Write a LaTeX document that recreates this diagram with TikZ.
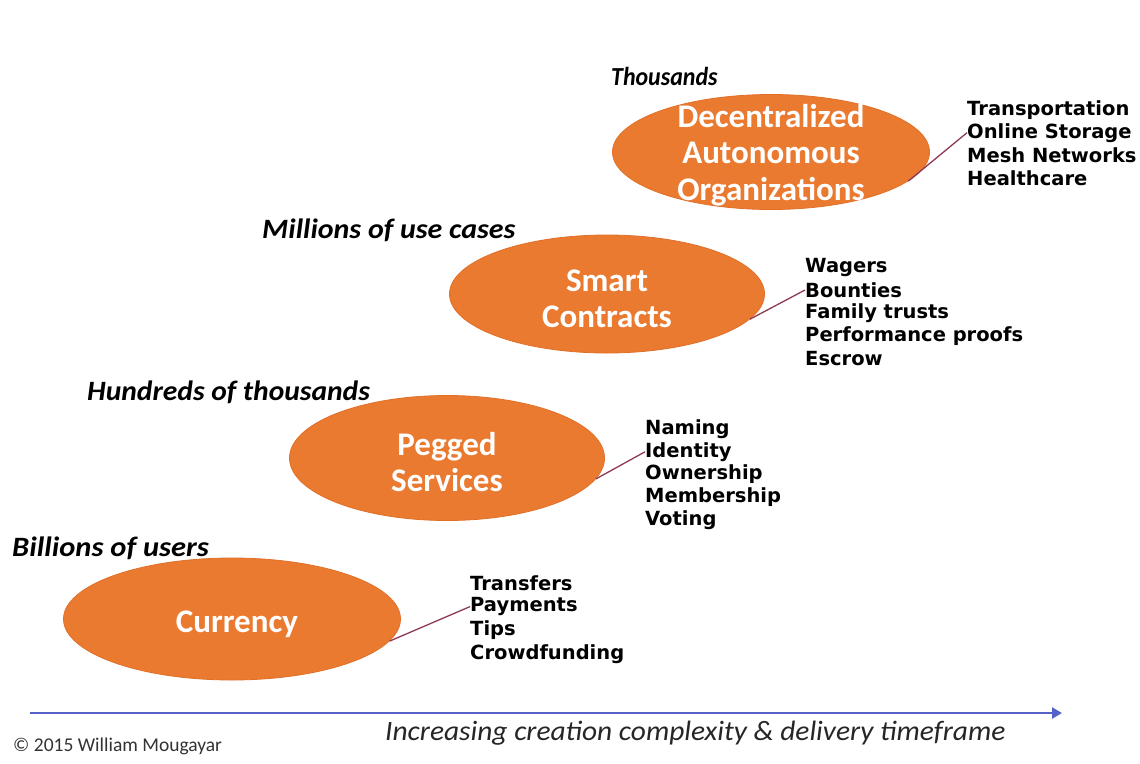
\documentclass[tikz,border=0pt]{standalone}
\usepackage{fontspec}
\setmainfont{Carlito}
\newfontfamily\listfont{DejaVu Sans}
\usetikzlibrary{shapes.geometric,arrows.meta}
\definecolor{orng}{HTML}{EB7A31}
\definecolor{orngdk}{HTML}{E06F28}
\definecolor{conncol}{HTML}{8E3A55}
\definecolor{axiscol}{HTML}{5563C8}
\tikzset{
  oval/.style={ellipse, fill=orng, draw=orngdk, line width=0.8pt, inner sep=0pt},
  ovaltext/.style={text=white, font=\fontsize{33}{36.5}\selectfont\bfseries, align=center, inner sep=0pt},
  item/.style={anchor=west, inner sep=0pt, font=\listfont\fontsize{19.5}{22}\selectfont\bfseries},
  scalelbl/.style={anchor=west, inner sep=0pt, font=\fontsize{28}{32}\selectfont\bfseries\itshape},
  conn/.style={draw=conncol, line width=1.3pt},
}
\begin{document}
\begin{tikzpicture}[x=1pt,y=-1pt]
\useasboundingbox (0,0) rectangle (1140,763);
\fill[white] (0,0) rectangle (1140,763);
% ovals
\node[oval, minimum width=317pt, minimum height=115pt] (dao) at (771,152) {};
\node[ovaltext] (daot) at (771,155) {Decentralized\\Autonomous\\Organizations};
\node[oval, minimum width=315pt, minimum height=118pt] (sc) at (607,294) {};
\node[ovaltext] (sct) at (607,299) {Smart\\Contracts};
\node[oval, minimum width=315pt, minimum height=125pt] (ps) at (447,458) {};
\node[ovaltext] (pst) at (447,462) {Pegged\\Services};
\node[oval, minimum width=337pt, minimum height=122pt] (cur) at (232,619) {};
\node[ovaltext] (curt) at (237,624) {Currency};
% scale labels
\node[scalelbl, font=\fontsize{26}{30}\selectfont\bfseries\itshape, xscale=0.92, transform shape] (l1) at (611,76) {Thousands};
\node[scalelbl, xscale=1.07, transform shape] (l2) at (262,230) {Millions of use cases};
\node[scalelbl, xscale=1.055, transform shape] (l3) at (87,392) {Hundreds of thousands};
\node[scalelbl, xscale=1.09, transform shape] (l4) at (12,548) {Billions of users};
% lists
\foreach \t [count=\i] in {Transportation,Online Storage,Mesh Networks,Healthcare}
  \node[item] (dao\i) at (967,{110+22.7*(\i-1)}) {\t};
\foreach \t [count=\i] in {Wagers,Bounties,Family trusts,Performance proofs,Escrow}
  \node[item] (sc\i) at (805,{267+23*(\i-1)}) {\t};
\foreach \t [count=\i] in {Naming,Identity,Ownership,Membership,Voting}
  \node[item] (ps\i) at (645,{429+22.8*(\i-1)}) {\t};
\foreach \t [count=\i] in {Transfers,Payments,Tips,Crowdfunding}
  \node[item] (cur\i) at (470,{583+23.6*(\i-1)}) {\t};
% connectors
\draw[conn] (dao.-12) -- (dao2.west);
\draw[conn] (sc.-10) -- (sc2.west);
\draw[conn] (ps.-8) -- (ps2.west);
\draw[conn] (cur.-8) -- (cur2.west);
% axis
\coordinate (a0) at (30,713);
\coordinate (a1) at (1062,713);
\draw[axiscol, line width=2.5pt, -{Triangle[length=10pt,width=11pt]}] (a0) -- (a1);
\node[anchor=west, inner sep=0pt, font=\fontsize{28}{32}\selectfont\itshape, text=black!85, xscale=1.05, transform shape] (ax) at (385,733) {Increasing creation complexity \& delivery timeframe};
\node[anchor=west, inner sep=0pt, font=\fontsize{19.5}{22}\selectfont, text=black!80] (copy) at (13,746) {© 2015 William Mougayar};
\end{tikzpicture}
\end{document}
